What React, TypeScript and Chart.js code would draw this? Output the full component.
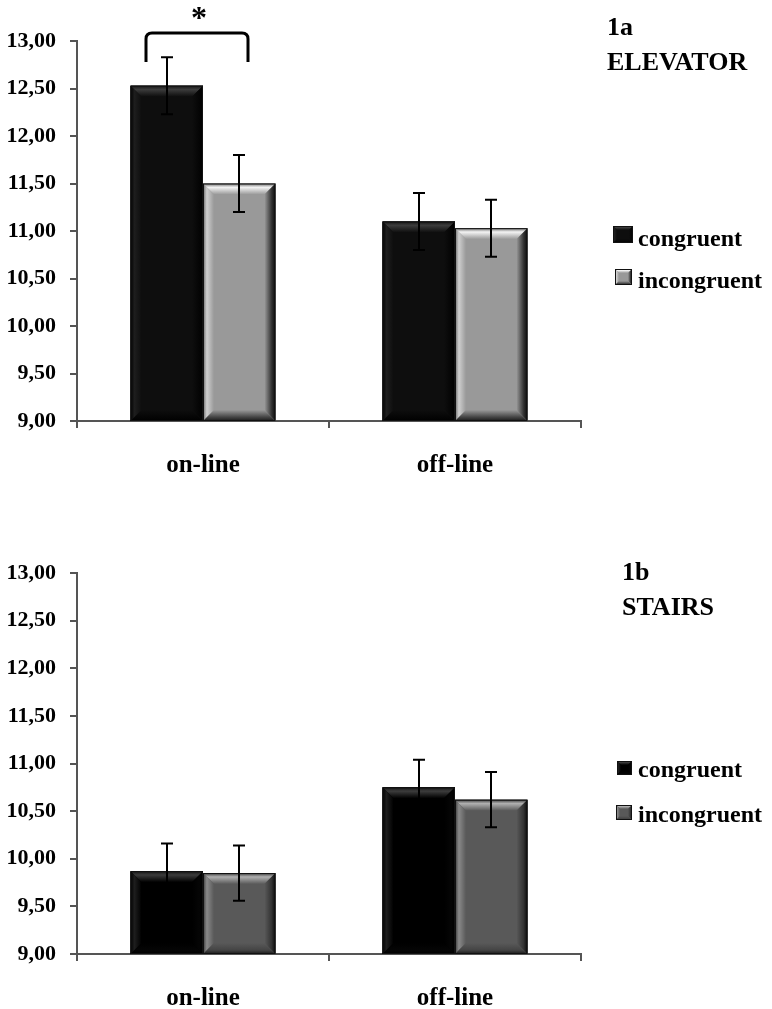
import React, { useEffect, useRef } from 'react';
import { Chart, registerables } from 'chart.js';

Chart.register(...registerables);

// ---------- data ----------
const categories = ['on-line', 'off-line'];
const seriesLabels = ['congruent', 'incongruent'];

const elevatorCongruent = [12.53, 11.1];
const elevatorIncongruent = [11.5, 11.03];
const elevatorCongruentErr = [0.3, 0.3];
const elevatorIncongruentErr = [0.3, 0.3];

const stairsCongruent = [9.87, 10.75];
const stairsIncongruent = [9.85, 10.62];
const stairsCongruentErr = [0.29, 0.29];
const stairsIncongruentErr = [0.29, 0.29];

const yMin = 9;
const yMax = 13;
const yStep = 0.5;

const FONT = '"Liberation Serif", "Times New Roman", serif';

const fmt = (v: number) => v.toFixed(2).replace('.', ',');

type Bevel = { base: string; top: string[]; left: string[]; right: string[]; bottom: string[] };

const blackBevel = (base: string): Bevel => ({
  base,
  top: ['#151515', '#3c3c3c', base],
  left: ['#000000', '#1e1e1e', base],
  right: ['#000000', '#050505', base],
  bottom: ['#000000', '#050505', base],
});

const greyBevel = (base: string, hi: string, lside: string, dark: string): Bevel => ({
  base,
  top: [dark, hi, base],
  left: [dark, lside, base],
  right: ['#0a0a0a', '#333333', base],
  bottom: ['#1a1a1a', '#444444', base],
});

const panels = [
  {
    height: 505,
    top: 41,
    bottom: 421,
    title: ['1a', 'ELEVATOR'],
    titleX: 607,
    titleY: [35, 70],
    series: [elevatorCongruent, elevatorIncongruent],
    errors: [elevatorCongruentErr, elevatorIncongruentErr],
    bevels: [blackBevel('#0e0e0e'), greyBevel('#999999', '#f4f4f4', '#cfcfcf', '#6a6a6a')],
    legend: { markerX: [613, 615], markerY: [226, 269], markerW: [20, 17], markerH: [17, 16], textX: 638, baseline: [246, 288] },
    bracket: true,
  },
  {
    height: 504,
    top: 68,
    bottom: 449,
    title: ['1b', 'STAIRS'],
    titleX: 622,
    titleY: [75, 110],
    series: [stairsCongruent, stairsIncongruent],
    errors: [stairsCongruentErr, stairsIncongruentErr],
    bevels: [blackBevel('#000000'), greyBevel('#595959', '#b0b0b0', '#8a8a8a', '#3a3a3a')],
    legend: { markerX: [617, 616], markerY: [256, 300], markerW: [15, 16], markerH: [14, 15], textX: 638, baseline: [272, 317] },
    bracket: false,
  },
];

function grad(ctx: CanvasRenderingContext2D, x0: number, y0: number, x1: number, y1: number, stops: string[]) {
  const g = ctx.createLinearGradient(x0, y0, x1, y1);
  const pos = [0, 0.35, 1];
  stops.forEach((c, i) => g.addColorStop(pos[i], c));
  return g;
}

function drawBevelRect(ctx: CanvasRenderingContext2D, l: number, t: number, r: number, b: number, bv: Bevel, size: number) {
  const s = Math.min(size, (b - t) / 2, (r - l) / 2);
  ctx.save();
  ctx.fillStyle = bv.base;
  ctx.fillRect(l, t, r - l, b - t);
  // top
  ctx.beginPath();
  ctx.moveTo(l, t); ctx.lineTo(r, t); ctx.lineTo(r - s, t + s); ctx.lineTo(l + s, t + s); ctx.closePath();
  ctx.fillStyle = grad(ctx, 0, t, 0, t + s, bv.top); ctx.fill();
  // left
  ctx.beginPath();
  ctx.moveTo(l, t); ctx.lineTo(l + s, t + s); ctx.lineTo(l + s, b - s); ctx.lineTo(l, b); ctx.closePath();
  ctx.fillStyle = grad(ctx, l, 0, l + s, 0, bv.left); ctx.fill();
  // right
  ctx.beginPath();
  ctx.moveTo(r, t); ctx.lineTo(r, b); ctx.lineTo(r - s, b - s); ctx.lineTo(r - s, t + s); ctx.closePath();
  ctx.fillStyle = grad(ctx, r, 0, r - s, 0, bv.right); ctx.fill();
  // bottom
  ctx.beginPath();
  ctx.moveTo(l, b); ctx.lineTo(r, b); ctx.lineTo(r - s, b - s); ctx.lineTo(l + s, b - s); ctx.closePath();
  ctx.fillStyle = grad(ctx, 0, b, 0, b - s, bv.bottom); ctx.fill();
  ctx.strokeStyle = '#111111';
  ctx.lineWidth = 1;
  ctx.strokeRect(l + 0.5, t + 0.5, r - l - 1, b - t - 1);
  ctx.restore();
}

const decorPlugin = {
  id: 'decor',
  afterDatasetsDraw(chart: any, _args: any, opts: any) {
    const ctx: CanvasRenderingContext2D = chart.ctx;
    const yScale = chart.scales.y;
    const xScale = chart.scales.x;
    const area = chart.chartArea;
    // bevelled bars (clipped to the plot area)
    chart.data.datasets.forEach((ds: any, i: number) => {
      const meta = chart.getDatasetMeta(i);
      meta.data.forEach((el: any) => {
        const l = el.x - el.width / 2;
        const r = el.x + el.width / 2;
        const t = Math.max(Math.min(el.y, el.base), area.top);
        const b = Math.min(Math.max(el.y, el.base), area.bottom);
        drawBevelRect(ctx, l, t, r, b, opts.bevels[i], 11);
      });
    });
    // error bars
    ctx.save();
    ctx.strokeStyle = '#000';
    ctx.lineWidth = 2;
    chart.data.datasets.forEach((ds: any, i: number) => {
      const meta = chart.getDatasetMeta(i);
      meta.data.forEach((el: any, j: number) => {
        const v = ds.data[j];
        const e = opts.errors[i][j];
        const yt = yScale.getPixelForValue(v + e);
        const yb = yScale.getPixelForValue(v - e);
        const x = Math.round(el.x);
        ctx.beginPath();
        ctx.moveTo(x, yt); ctx.lineTo(x, yb);
        ctx.moveTo(x - 6, yt); ctx.lineTo(x + 6, yt);
        ctx.moveTo(x - 6, yb); ctx.lineTo(x + 6, yb);
        ctx.stroke();
      });
    });
    ctx.restore();
    // significance bracket
    if (opts.bracket) {
      const cx = xScale.getPixelForValue(0);
      const l = cx - 57;
      const r = cx + 45;
      const top = area.top - 8;
      const leg = area.top + 21;
      const rad = 6;
      ctx.save();
      ctx.strokeStyle = '#000';
      ctx.lineWidth = 3;
      ctx.beginPath();
      ctx.moveTo(l, leg);
      ctx.lineTo(l, top + rad);
      ctx.quadraticCurveTo(l, top, l + rad, top);
      ctx.lineTo(r - rad, top);
      ctx.quadraticCurveTo(r, top, r, top + rad);
      ctx.lineTo(r, leg);
      ctx.stroke();
      ctx.fillStyle = '#000';
      ctx.font = `bold 32px ${FONT}`;
      ctx.textAlign = 'center';
      ctx.textBaseline = 'alphabetic';
      ctx.fillText('*', (l + r) / 2 + 2, 28);
      ctx.restore();
    }
    // titles
    ctx.save();
    ctx.fillStyle = '#000';
    ctx.font = `bold 26px ${FONT}`;
    ctx.textAlign = 'left';
    ctx.textBaseline = 'alphabetic';
    opts.title.forEach((t: string, k: number) => ctx.fillText(t, opts.titleX, opts.titleY[k]));
    // legend
    const lg = opts.legend;
    ctx.font = `bold 24px ${FONT}`;
    chart.data.datasets.forEach((ds: any, i: number) => {
      const mx = lg.markerX[i];
      const my = lg.markerY[i];
      drawBevelRect(ctx, mx, my, mx + lg.markerW[i], my + lg.markerH[i], opts.bevels[i], 4);
      ctx.fillStyle = '#000';
      ctx.fillText(ds.label, lg.textX, lg.baseline[i]);
    });
    ctx.restore();
  },
};

function Panel({ p }: { p: (typeof panels)[number] }) {
  const ref = useRef<HTMLCanvasElement | null>(null);
  useEffect(() => {
    if (!ref.current) return;
    const chart = new Chart(ref.current, {
      type: 'bar',
      data: {
        labels: categories,
        datasets: seriesLabels.map((label, i) => ({
          label,
          data: p.series[i],
          backgroundColor: p.bevels[i].base,
          borderWidth: 0,
          categoryPercentage: 0.575,
          barPercentage: 1,
        })),
      },
      options: {
        animation: false,
        responsive: false,
        events: [],
        layout: { padding: { left: 0, right: 191, top: p.top, bottom: 0 } },
        plugins: {
          legend: { display: false },
          tooltip: { enabled: false },
          decor: {
            errors: p.errors,
            bevels: p.bevels,
            bracket: p.bracket,
            title: p.title,
            titleX: p.titleX,
            titleY: p.titleY,
            legend: p.legend,
          },
        } as any,
        scales: {
          x: {
            grid: { drawOnChartArea: false, drawTicks: true, tickLength: 7, color: '#555', lineWidth: 2 },
            border: { display: true, color: '#555', width: 2 },
            ticks: { color: '#000', font: { family: FONT, size: 25, weight: 'bold' }, padding: 23 },
            afterFit: (s: any) => { s.height = p.height - p.bottom; },
          },
          y: {
            min: yMin,
            max: yMax,
            grid: { drawOnChartArea: false, drawTicks: true, tickLength: 7, color: '#555', lineWidth: 2 },
            border: { display: true, color: '#555', width: 2 },
            ticks: {
              stepSize: yStep,
              color: '#000',
              font: { family: FONT, size: 22, weight: 'bold' },
              padding: 14,
              callback: (v: any) => fmt(Number(v)),
            },
            afterFit: (s: any) => { s.width = 77; },
          },
        },
      },
      plugins: [decorPlugin],
    });
    return () => chart.destroy();
  }, [p]);
  return <canvas ref={ref} width={772} height={p.height} style={{ display: 'block', width: 772, height: p.height }} />;
}

export default function App() {
  return (
    <div style={{ position: 'absolute', left: 0, top: 0, width: 772, height: 1009, background: '#fff' }}>
      {panels.map((p, i) => (
        <Panel key={i} p={p} />
      ))}
    </div>
  );
}
